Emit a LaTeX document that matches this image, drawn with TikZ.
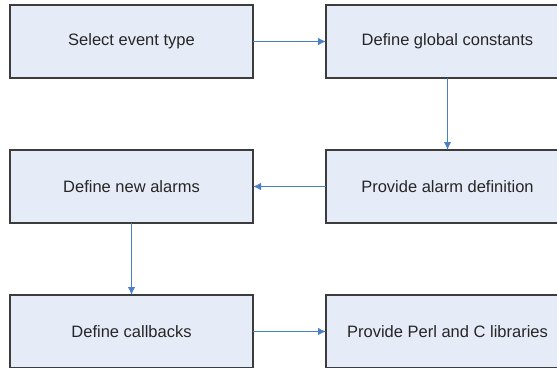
\documentclass[tikz,border=0pt]{standalone}
\usepackage{fontspec}
\setmainfont{Liberation Sans}
\usetikzlibrary{positioning, arrows.meta}
\definecolor{boxfill}{HTML}{E6ECF7}
\definecolor{boxline}{HTML}{3C3C3C}
\definecolor{flowblue}{HTML}{4A7EC5}
\tikzset{
    stage/.style={rectangle, draw=boxline, line width=1.1pt, fill=boxfill, align=center, minimum width=243pt, minimum height=73pt, outer sep=0pt, inner sep=0pt, text=black!85, font=\fontsize{16.5}{19}\selectfont},
    arrow/.style={-{Latex[length=8pt,width=7.5pt]}, draw=flowblue, line width=1.3pt}
}

\begin{document}
\begin{tikzpicture}[node distance=72pt]
        \useasboundingbox (0,0) rectangle (557pt,-367pt);
        \clip (0,0) rectangle (557pt,-367pt);

        % Row 1
        \node[stage, anchor=north west] (Select) at (10pt,-5pt) {Select event type};
        \node[stage, right=73pt of Select] (Globals) {Define global constants};

        % Row 2
        \node[stage, below=of Globals] (AlarmDef) {Provide alarm definition};
        \node[stage, below=of Select] (NewAlarms) {Define new alarms};

        % Row 3
        \node[stage, below=of NewAlarms] (Callbacks) {Define callbacks};
        \node[stage, right=73pt of Callbacks] (Libs) {Provide Perl and C libraries};

        % Connections
        \draw[arrow] (Select) -- (Globals);
        \draw[arrow] (Globals) -- (AlarmDef);
        \draw[arrow] (AlarmDef) -- (NewAlarms);
        \draw[arrow] (NewAlarms) -- (Callbacks);
        \draw[arrow] (Callbacks) -- (Libs);

    \end{tikzpicture}
\end{document}
